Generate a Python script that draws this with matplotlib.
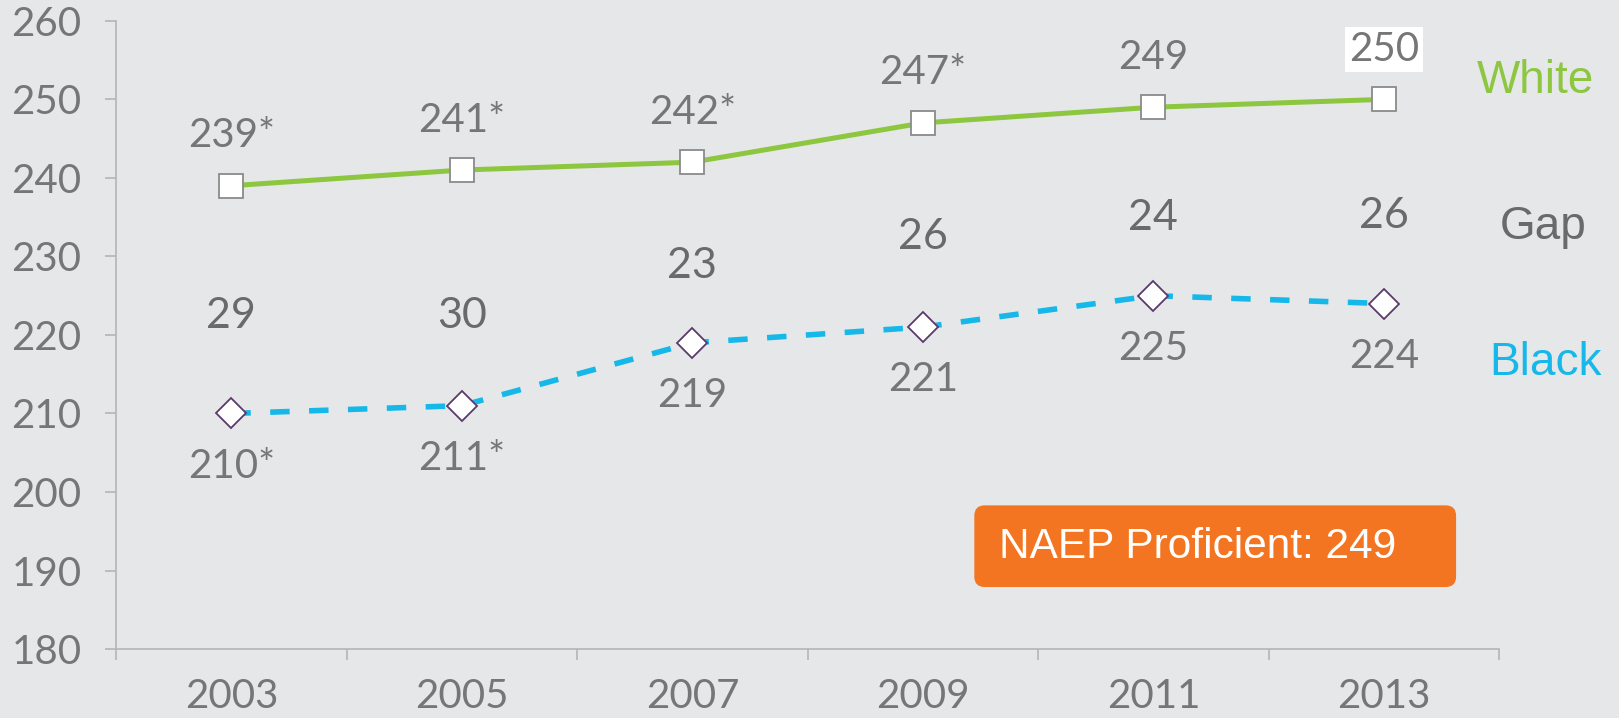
import numpy as np
import matplotlib.pyplot as plt
from matplotlib.patches import FancyBboxPatch

years = ['2003', '2005', '2007', '2009', '2011', '2013']
white = [239, 241, 242, 247, 249, 250]
black = [210, 211, 219, 221, 225, 224]
white_labels = ['239*', '241*', '242*', '247*', '249', '250']
black_labels = ['210*', '211*', '219', '221', '225', '224']
gap = [29, 30, 23, 26, 24, 26]
gap_y = [222.4, 222.4, 228.8, 232.5, 234.9, 235.1]

bg = '#E6E7E9'
grey = '#767676'
green = '#8DC63F'
blue = '#15B8E8'
orange = '#F47521'

fig = plt.figure(figsize=(16.19, 7.18), dpi=100, facecolor=bg)
ax = fig.add_axes([0.0717, 0.096, 0.8543, 0.875])
ax.set_facecolor(bg)

x = np.arange(len(years))

ax.plot(x, white, color=green, lw=3.6, marker='s', ms=17,
        mfc='white', mec='#8a8a8a', mew=1.3, zorder=3)
ax.plot(x, black, color=blue, lw=4, ls=(0, (3.5, 3.5)), marker='D', ms=15,
        mfc='white', mec='#5B3A6B', mew=1.3, zorder=3)

num_font = 'Lato'
for i in x:
    t = ax.annotate(white_labels[i], (x[i], white[i]), xytext=(0, 36),
                    textcoords='offset points', ha='center', va='center',
                    fontsize=29, color=grey, family=num_font)
    if i == len(x) - 1:
        t.set_bbox(dict(facecolor='white', edgecolor='none', pad=3))
    ax.annotate(black_labels[i], (x[i], black[i]), xytext=(0, -38),
                textcoords='offset points', ha='center', va='center',
                fontsize=29, color=grey, family=num_font)
    ax.text(x[i], gap_y[i], str(gap[i]), ha='center', va='center',
            fontsize=31, color='#6a6a6a', family=num_font)

ax.text(5.913, 252.4, 'White', color=green, fontsize=33, ha='right', va='center',
        family='Liberation Sans', clip_on=False)
ax.text(5.877, 233.7, 'Gap', color='#6a6a6a', fontsize=33, ha='right', va='center',
        family='Liberation Sans', clip_on=False)
ax.text(5.945, 216.4, 'Black', color=blue, fontsize=33, ha='right', va='center',
        family='Liberation Sans', clip_on=False)

# orange proficiency box
box = FancyBboxPatch((3.223, 187.9), 2.09, 10.4,
                     boxstyle='round,pad=0,rounding_size=0.045',
                     transform=ax.transData, facecolor=orange, edgecolor='none',
                     mutation_aspect=29.4, zorder=4)
ax.add_patch(box)
ax.text(3.33, 193.0, 'NAEP Proficient: 249', color='white', fontsize=30.5,
        family='Liberation Sans', ha='left', va='center', zorder=5)

ax.set_xlim(-0.5, 5.5)
ax.set_ylim(180, 260)
ax.set_yticks(np.arange(180, 261, 10))
ax.set_xticks(np.arange(-0.5, 6, 1))
ax.set_xticklabels([])
ax.set_xticks(x, minor=True)
ax.set_xticklabels(years, minor=True)
ax.tick_params(axis='x', which='major', length=8, color='#b5b5b5', width=1.2)
ax.tick_params(axis='x', which='minor', length=0, pad=21, labelsize=29, labelcolor=grey)
ax.tick_params(axis='y', length=8, color='#b5b5b5', width=1.2, pad=17,
               labelsize=29, labelcolor=grey)
for lab in ax.get_xticklabels(minor=True) + ax.get_yticklabels():
    lab.set_family(num_font)

for s in ['top', 'right']:
    ax.spines[s].set_visible(False)
for s in ['left', 'bottom']:
    ax.spines[s].set_color('#b5b5b5')
    ax.spines[s].set_linewidth(1.2)

fig.savefig('out.png', dpi=100, facecolor=bg)
